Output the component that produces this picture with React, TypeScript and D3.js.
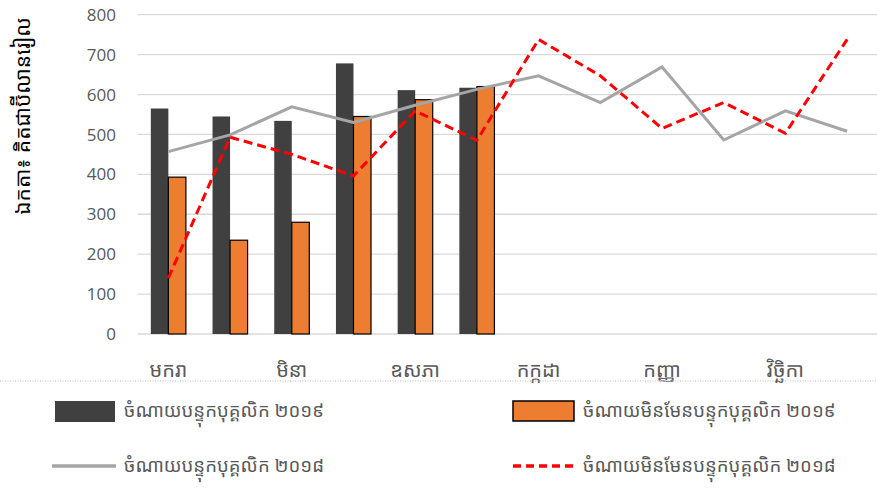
import React, { useEffect, useRef } from 'react';
import * as d3 from 'd3';

const months = ['មករា', 'កុម្ភៈ', 'មិនា', 'មេសា', 'ឧសភា', 'មិថុនា', 'កក្កដា', 'សីហា', 'កញ្ញា', 'តុលា', 'វិច្ឆិកា', 'ធ្នូ'];
const staff2019 = [565, 545, 534, 678, 611, 617];
const nonStaff2019 = [393, 235, 280, 545, 587, 620];
const staff2018 = [457, 499, 569, 530, 573, 613, 647, 580, 669, 486, 559, 508];
const nonStaff2018 = [140, 493, 450, 396, 559, 485, 738, 647, 515, 580, 503, 738];
const yTicks = [0, 100, 200, 300, 400, 500, 600, 700, 800];
const yTitle = 'ឯកតា៖ គិតជាប៊ីលានរៀល';
const legendNames = [
  'ចំណាយបន្ទុកបុគ្គលិក ២០១៩',
  'ចំណាយមិនមែនបន្ទុកបុគ្គលិក ២០១៩',
  'ចំណាយបន្ទុកបុគ្គលិក ២០១៨',
  'ចំណាយមិនមែនបន្ទុកបុគ្គលិក ២០១៨',
];

const W = 877;
const H = 491;
const FONT = '"Noto Sans Khmer", "Khmer OS", "Open Sans", "Liberation Sans", sans-serif';

const App: React.FC = () => {
  const svgRef = useRef<SVGSVGElement>(null);

  useEffect(() => {
    if (!svgRef.current) return;
    const svg = d3.select(svgRef.current);
    svg.selectAll('*').remove();

    const left = 137.5;
    const right = 878;
    const top = 14.7;
    const bottom = 334;

    const x = d3.scaleBand<string>().domain(months).range([left, right]);
    const sub = d3.scaleBand<string>().domain(['a', 'b']).range([0, x.bandwidth()]).paddingOuter(0.76);
    const y = d3.scaleLinear().domain([0, 800]).range([bottom, top]);

    // grid
    svg.append('g')
      .selectAll('line')
      .data(yTicks)
      .join('line')
      .attr('x1', left)
      .attr('x2', right)
      .attr('y1', d => y(d))
      .attr('y2', d => y(d))
      .attr('stroke', '#d9d9d9')
      .attr('stroke-width', 1.3);

    // y tick labels
    svg.append('g')
      .selectAll('text')
      .data(yTicks)
      .join('text')
      .attr('x', 116)
      .attr('y', d => y(d))
      .attr('dy', '0.36em')
      .attr('text-anchor', 'end')
      .style('font-family', '"Open Sans", "Liberation Sans", sans-serif')
      .style('font-size', '17px')
      .style('fill', '#595959')
      .text(d => d);

    // y title
    svg.append('text')
      .attr('transform', 'translate(30,116) rotate(-90)')
      .attr('text-anchor', 'middle')
      .style('font-family', FONT)
      .style('font-size', '21px')
      .style('fill', '#000')
      .text(yTitle);

    // bars
    svg.append('g')
      .selectAll('rect')
      .data(staff2019)
      .join('rect')
      .attr('x', (d, i) => (x(months[i]) as number) + (sub('a') as number))
      .attr('y', d => y(d))
      .attr('width', sub.bandwidth())
      .attr('height', d => y(0) - y(d))
      .attr('fill', '#404040');

    svg.append('g')
      .selectAll('rect')
      .data(nonStaff2019)
      .join('rect')
      .attr('x', (d, i) => (x(months[i]) as number) + (sub('b') as number))
      .attr('y', d => y(d))
      .attr('width', sub.bandwidth())
      .attr('height', d => y(0) - y(d))
      .attr('fill', '#ED7D31')
      .attr('stroke', '#000')
      .attr('stroke-width', 1.2);

    const cx = (i: number) => (x(months[i]) as number) + x.bandwidth() / 2;
    const line = d3.line<number>().x((d, i) => cx(i)).y(d => y(d));

    svg.append('path')
      .datum(staff2018)
      .attr('d', line)
      .attr('fill', 'none')
      .attr('stroke', '#A5A5A5')
      .attr('stroke-width', 3);

    svg.append('path')
      .datum(nonStaff2018)
      .attr('d', line)
      .attr('fill', 'none')
      .attr('stroke', '#FF0000')
      .attr('stroke-width', 3)
      .attr('stroke-dasharray', '9,5');

    // x labels, every other month
    svg.append('g')
      .selectAll('text')
      .data(months.filter((m, i) => i % 2 === 0))
      .join('text')
      .attr('x', d => (x(d) as number) + x.bandwidth() / 2)
      .attr('y', 377)
      .attr('text-anchor', 'middle')
      .style('font-family', FONT)
      .style('font-size', '20px')
      .style('fill', '#595959')
      .text(d => d);

    // dotted separator
    svg.append('line')
      .attr('x1', 0)
      .attr('x2', W)
      .attr('y1', 381)
      .attr('y2', 381)
      .attr('stroke', '#bfbfbf')
      .attr('stroke-width', 1)
      .attr('stroke-dasharray', '1,1.5');

    // legend
    const lg = svg.append('g');
    lg.append('rect').attr('x', 55).attr('y', 401).attr('width', 60).attr('height', 21).attr('fill', '#404040');
    lg.append('rect').attr('x', 513).attr('y', 401).attr('width', 61).attr('height', 20)
      .attr('fill', '#ED7D31').attr('stroke', '#000').attr('stroke-width', 1.5);
    lg.append('line').attr('x1', 52).attr('x2', 116).attr('y1', 466).attr('y2', 466)
      .attr('stroke', '#A5A5A5').attr('stroke-width', 3.5);
    lg.append('line').attr('x1', 513).attr('x2', 576).attr('y1', 466).attr('y2', 466)
      .attr('stroke', '#FF0000').attr('stroke-width', 3.5).attr('stroke-dasharray', '8,5');

    const legendPos = [[124, 411], [583, 411], [124, 466], [583, 466]];
    lg.selectAll('text.lt')
      .data(legendNames)
      .join('text')
      .attr('class', 'lt')
      .attr('x', (d, i) => legendPos[i][0])
      .attr('y', (d, i) => legendPos[i][1])
      .attr('dy', '0.3em')
      .style('font-family', FONT)
      .style('font-size', '18.6px')
      .style('fill', '#595959')
      .text(d => d);
  }, []);

  return (
    <svg
      ref={svgRef}
      width={W}
      height={H}
      style={{ position: 'absolute', left: 0, top: 0, background: '#fff' }}
    />
  );
};

export default App;
